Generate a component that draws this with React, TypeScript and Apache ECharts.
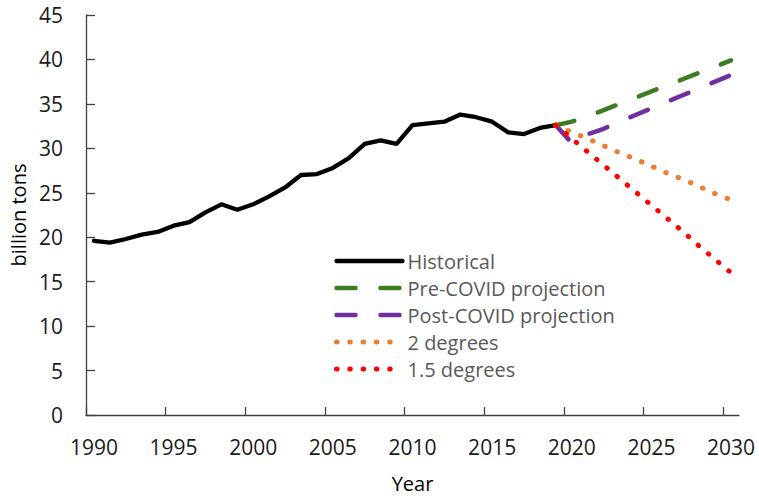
import React, { useEffect, useRef } from "react";
import * as echarts from "echarts";

const years: string[] = [];
for (let y = 1990; y <= 2030; y++) years.push(String(y));

const historicalYears = [1990, 2019];
const historical = [
  19.6, 19.4, 19.8, 20.3, 20.6, 21.3, 21.7, 22.8, 23.7, 23.1,
  23.7, 24.6, 25.6, 27.0, 27.1, 27.8, 28.9, 30.5, 30.9, 30.5,
  32.6, 32.8, 33.0, 33.8, 33.5, 33.0, 31.8, 31.6, 32.3, 32.6,
];
const projYears = [2019, 2030];
const preCovid = [32.6, 33.0, 33.6, 34.3, 35.0, 35.7, 36.4, 37.1, 37.8, 38.5, 39.2, 39.9];
const postCovid = [32.6, 30.6, 31.6, 32.2, 33.0, 33.75, 34.5, 35.25, 36.0, 36.75, 37.5, 38.25];
const twoDegrees = [32.6, 31.8, 31.1, 30.3, 29.5, 28.8, 28.0, 27.2, 26.5, 25.7, 24.9, 24.2];
const onePointFive = [32.6, 31.1, 29.6, 28.1, 26.6, 25.1, 23.6, 22.1, 20.6, 19.0, 17.5, 16.0];

const xTickYears = [1990, 1995, 2000, 2005, 2010, 2015, 2020, 2025, 2030];
const yTicks = { min: 0, max: 45, interval: 5 };

function pad(values: number[], startYear: number): (number | null)[] {
  return years.map((y) => {
    const i = Number(y) - startYear;
    return i >= 0 && i < values.length ? values[i] : null;
  });
}

const FONT = "'Open Sans', 'Noto Sans', sans-serif";

export default function App() {
  const ref = useRef<HTMLDivElement>(null);
  useEffect(() => {
    if (!ref.current) return;
    const chart = echarts.init(ref.current, null, { renderer: "svg" });
    const dashed = [19, 25];
    const dotted = [0.5, 12.8];
    const mk = (name: string, data: (number | null)[], color: string, type: any, width: number) => ({
      name,
      type: "line",
      data,
      symbol: "none",
      showSymbol: false,
      connectNulls: false,
      lineStyle: { color, width, type, cap: "round", join: "round" },
      itemStyle: { color },
      emphasis: { disabled: true },
    });
    chart.setOption({
      animation: false,
      textStyle: { fontFamily: FONT },
      grid: { left: 86, right: 20, top: 15, bottom: 83 },
      legend: {
        orient: "vertical",
        left: 334,
        top: 251,
        padding: 0,
        itemWidth: 66,
        itemHeight: 14,
        itemGap: 7,
        selectedMode: false,
        itemStyle: { opacity: 0, borderWidth: 0 },
        lineStyle: { width: "inherit", type: "inherit", cap: "inherit" },
        textStyle: { fontSize: 20, color: "#595959", fontFamily: FONT, lineHeight: 20 },
        data: ["Historical", "Pre-COVID projection", "Post-COVID projection", "2 degrees", "1.5 degrees"],
      },
      xAxis: [
        {
          type: "category",
          data: years,
          boundaryGap: true,
          position: "bottom",
          name: "Year",
          nameLocation: "middle",
          nameGap: 58,
          nameTextStyle: { fontSize: 20, color: "#000", fontFamily: FONT },
          axisLine: { lineStyle: { color: "#404040", width: 1.3 } },
          axisTick: { show: false },
          axisLabel: { interval: 4, fontSize: 21, color: "#1a1a1a", margin: 21, fontFamily: FONT },
          splitLine: { show: false },
        },
        {
          type: "value",
          min: historicalYears[0],
          max: projYears[1] + 1,
          position: "bottom",
          axisLine: { show: false },
          axisLabel: { show: false },
          splitLine: { show: false },
          axisTick: {
            show: true,
            inside: true,
            length: 8,
            customValues: xTickYears,
            lineStyle: { color: "#404040", width: 1.3 },
          },
        },
      ],
      yAxis: {
        type: "value",
        min: yTicks.min,
        max: yTicks.max,
        interval: yTicks.interval,
        name: "billion tons",
        nameLocation: "middle",
        nameGap: 44,
        nameTextStyle: { fontSize: 20, color: "#000", fontFamily: FONT },
        axisLine: { show: true, lineStyle: { color: "#404040", width: 1.3 } },
        axisTick: { show: true, inside: true, length: 9, lineStyle: { color: "#404040", width: 1.3 } },
        axisLabel: { fontSize: 21, color: "#1a1a1a", margin: 23, fontFamily: FONT },
        splitLine: { show: false },
      },
      series: [
        mk("Historical", pad(historical, historicalYears[0]), "#000000", "solid", 4.3),
        mk("Pre-COVID projection", pad(preCovid, projYears[0]), "#3B7D23", dashed, 4.5),
        mk("Post-COVID projection", pad(postCovid, projYears[0]), "#7030A0", dashed, 4.5),
        mk("2 degrees", pad(twoDegrees, projYears[0]), "#ED7D31", dotted, 5),
        mk("1.5 degrees", pad(onePointFive, projYears[0]), "#FF0000", dotted, 5),
      ],
    });
    return () => chart.dispose();
  }, []);
  return (
    <div
      ref={ref}
      style={{ position: "fixed", left: 0, top: 0, width: 759, height: 498, background: "#fff" }}
    />
  );
}
